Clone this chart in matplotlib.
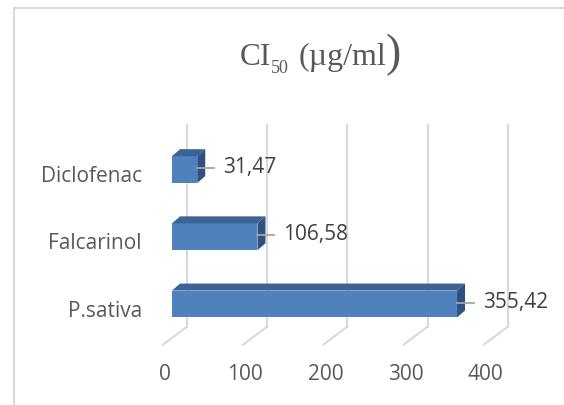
import matplotlib
matplotlib.use("Agg")
import matplotlib.pyplot as plt
from matplotlib.patches import Polygon, Rectangle

# IC50 values, bottom to top
compounds = ["P.sativa", "Falcarinol", "Diclofenac"]
ic50 = [355.42, 106.58, 31.47]
value_labels = ["355,42", "106,58", "31,47"]
xticks = [0, 100, 200, 300, 400]

W, H = 564, 405
fig = plt.figure(figsize=(W / 100, H / 100), dpi=100)

# axes box in pixels (front plane of the bars)
left, right, top, bottom = 172, 492.8, 136, 337.6
ax = fig.add_axes([left / W, 1 - bottom / H, (right - left) / W, (bottom - top) / H])
ax.set_xlim(0, 400)
ax.set_ylim(-0.5, 2.5)
ax.axis("off")

ux = 400 / (right - left)    # data units per pixel, x
uy = 3 / (bottom - top)      # data units per pixel, y

# 3d depth offsets (pixels, y up) relative to the bar front plane
back = (8, 7)
wall = (15, 11)
floor = (-9, -7)

grid_c = "#d9d9d9"
front_c, top_c, side_c = "#4f81bd", "#3b6494", "#2e5180"
font = "Open Sans"

# back wall gridlines and floor diagonals
for t in xticks:
    wx, wy = t + wall[0] * ux, -0.5 + wall[1] * uy
    ax.plot([wx, wx], [wy, 2.5 + wall[1] * uy], color=grid_c, lw=1.5,
            zorder=1, clip_on=False)
    ax.plot([wx, t + floor[0] * ux], [wy, -0.5 + floor[1] * uy],
            color=grid_c, lw=1.5, zorder=1, clip_on=False)
    ax.text(t + (floor[0] + 2) * ux, -0.5 - 37 * uy, str(t), ha="center",
            va="center", fontsize=15, family=font, color="#595959")

# bars as boxes: front face, top face, right side
h = 0.2
dx, dy = back[0] * ux, back[1] * uy
for i, v in enumerate(ic50):
    ax.barh(i, v, height=2 * h, color=front_c, zorder=3)
    ax.add_patch(Polygon([(0, i + h), (v, i + h), (v + dx, i + h + dy),
                          (dx, i + h + dy)], closed=True, fc=top_c,
                         ec="none", zorder=3, clip_on=False))
    ax.add_patch(Polygon([(v, i - h), (v + dx, i - h + dy),
                          (v + dx, i + h + dy), (v, i + h)], closed=True,
                         fc=side_c, ec="none", zorder=3, clip_on=False))
    # leader line and value label
    ax.plot([v, v + 17 * ux], [i + 1.5 * uy, i + 1.5 * uy], color="#a6a6a6",
            lw=1.3, zorder=4, clip_on=False)
    ax.text(v + 26 * ux, i + 2 * uy, value_labels[i], ha="left", va="center",
            fontsize=15, family=font, color="#404040", zorder=5)
    # category label on the front floor plane
    ax.text(-30 * ux, i + floor[1] * uy, compounds[i], ha="right",
            va="center", fontsize=15, family=font, color="#595959")

# title: CI50 (µg/ml) with a tall closing parenthesis
serif = "Liberation Serif"
tcol = "#595959"
fig.canvas.draw()
r = fig.canvas.get_renderer()
x0, base = 240, H - 65
parts = [("CI", 22.5, 0, 0), ("50", 13, 0, -8), ("(µg/ml", 23, 9, 0),
         (")", 33, 0, -1)]
x = x0
for s, size, gap, shift in parts:
    x += gap
    t = fig.text(x / W, (base + shift) / H, s, fontsize=size, family=serif,
                 color=tcol, ha="left", va="baseline")
    x = t.get_window_extent(renderer=r).x1

# outer chart border
fig.add_artist(Rectangle((14 / W, -0.1), 1.2, (H - 8) / H + 0.1,
                         transform=fig.transFigure, fill=False, ec=grid_c,
                         lw=1.5))

fig.savefig("out.png", dpi=100)
